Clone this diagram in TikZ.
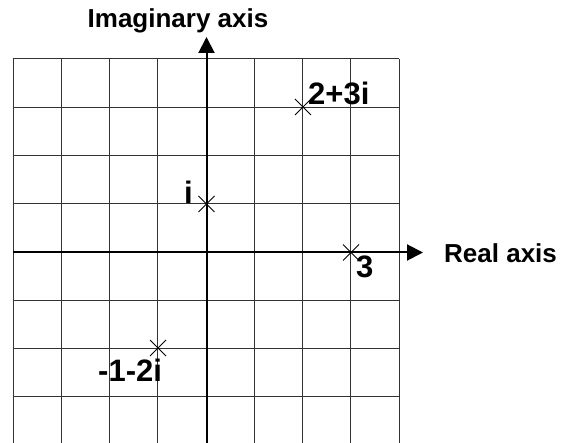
\documentclass[tikz,border=0pt]{standalone}
\usepackage{fontspec}
\setmainfont{Liberation Sans}
\usetikzlibrary{arrows.meta,shapes.misc}
\begin{document}
\begin{tikzpicture}[x=1pt,y=-1pt,
  gridline/.style={line width=1pt,draw=black!80},
  axisline/.style={line width=2pt,-{Triangle[length=16pt,width=16pt]}},
  ptmark/.style={cross out,draw,line width=1pt,minimum size=15pt,inner sep=0pt},
  ptlabel/.style={font=\bfseries\fontsize{31}{31}\selectfont,inner sep=0pt,anchor=base west},
  axlabel/.style={font=\bfseries\fontsize{26}{26}\selectfont,inner sep=0pt}]
\useasboundingbox (0,0) rectangle (573,443);
% grid
\foreach \i in {0,...,8} {
  \draw[gridline] ({13+48.25*\i},59) -- ({13+48.25*\i},443);
}
\foreach \j in {0,...,7} {
  \draw[gridline] (13,{59+48.25*\j}) -- (399,{59+48.25*\j});
}
% axes
\coordinate (xs) at (13,252.5);
\coordinate (xe) at (423,252.5);
\coordinate (ys) at (206.5,443);
\coordinate (ye) at (206.5,37);
\draw[axisline] (xs) -- (xe);
\draw[axisline] (ys) -- (ye);
% axis labels
\node[axlabel,anchor=base] (ylab) at (178,28) {Imaginary axis};
\node[axlabel,anchor=base west] (xlab) at (444,263) {Real axis};
% points
\node[ptmark] (p1) at (303,107) {};
\node[ptmark] (p2) at (351,252.5) {};
\node[ptmark] (p3) at (206.5,204) {};
\node[ptmark] (p4) at (158,348) {};
\node[ptlabel] (l1) at (308,105) {2+3i};
\node[ptlabel] (l2) at (356,278) {3};
\node[ptlabel] (l3) at (184,204) {i};
\node[ptlabel] (l4) at (98,382) {-1-2i};
\end{tikzpicture}
\end{document}
